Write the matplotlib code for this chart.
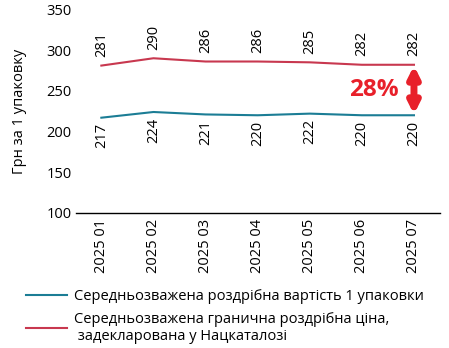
import matplotlib.pyplot as plt

plt.rcParams['font.family'] = ['Open Sans', 'DejaVu Sans']

# Monthly data
months = ['2025 01', '2025 02', '2025 03', '2025 04', '2025 05', '2025 06', '2025 07']
retail = [217, 224, 221, 220, 222, 220, 220]
ceiling = [281, 290, 286, 286, 285, 282, 282]
gap_label = '28%'

blue = '#1b7d95'
red = '#c8384f'
accent = '#e8202a'

fig = plt.figure(figsize=(4.49, 3.48), dpi=100)
ax = fig.add_axes([0.17, 0.388, 0.81, 0.585])

x = list(range(len(months)))
ax.plot(x, retail, color=blue, lw=1.5,
        label='Середньозважена роздрібна вартість 1 упаковки')
ax.plot(x, ceiling, color=red, lw=1.5,
        label='Середньозважена гранична роздрібна ціна,\n задекларована у Нацкаталозі')

# value labels, rotated
for xi, v in zip(x, ceiling):
    ax.annotate(str(v), (xi, v), xytext=(0, 6), textcoords='offset points',
                rotation=90, ha='center', va='bottom', fontsize=10.5)
for xi, v in zip(x, retail):
    ax.annotate(str(v), (xi, v), xytext=(0, -4), textcoords='offset points',
                rotation=90, ha='center', va='top', fontsize=10.5)

# gap arrow between the two series in the last month
ax.annotate('', xy=(x[-1], ceiling[-1] - 1), xytext=(x[-1], retail[-1] + 1),
            arrowprops=dict(arrowstyle='<|-|>', color=accent, lw=5,
                            mutation_scale=16, shrinkA=0, shrinkB=0))
ax.text(x[-1] - 0.3, (ceiling[-1] + retail[-1]) / 2, gap_label, color=accent,
        fontsize=17.5, fontweight='bold', ha='right', va='center')

ax.set_xlim(-0.48, 6.5)
ax.set_ylim(100, 350)
ax.set_yticks(range(100, 351, 50))
ax.set_xticks(x)
ax.set_xticklabels(months, rotation=90)
ax.tick_params(axis='both', length=0, labelsize=10.5)
ax.tick_params(axis='x', pad=4)
ax.set_ylabel('Грн за 1 упаковку', fontsize=10.5, labelpad=14)

for side in ['top', 'right', 'left']:
    ax.spines[side].set_visible(False)
ax.spines['bottom'].set_linewidth(1)

fig.legend(loc='upper left', bbox_to_anchor=(0.045, 0.185), frameon=False,
           fontsize=10.5, handlelength=2.8, handletextpad=0.5, labelspacing=0.5,
           borderaxespad=0)

fig.savefig('out.png', dpi=100)
